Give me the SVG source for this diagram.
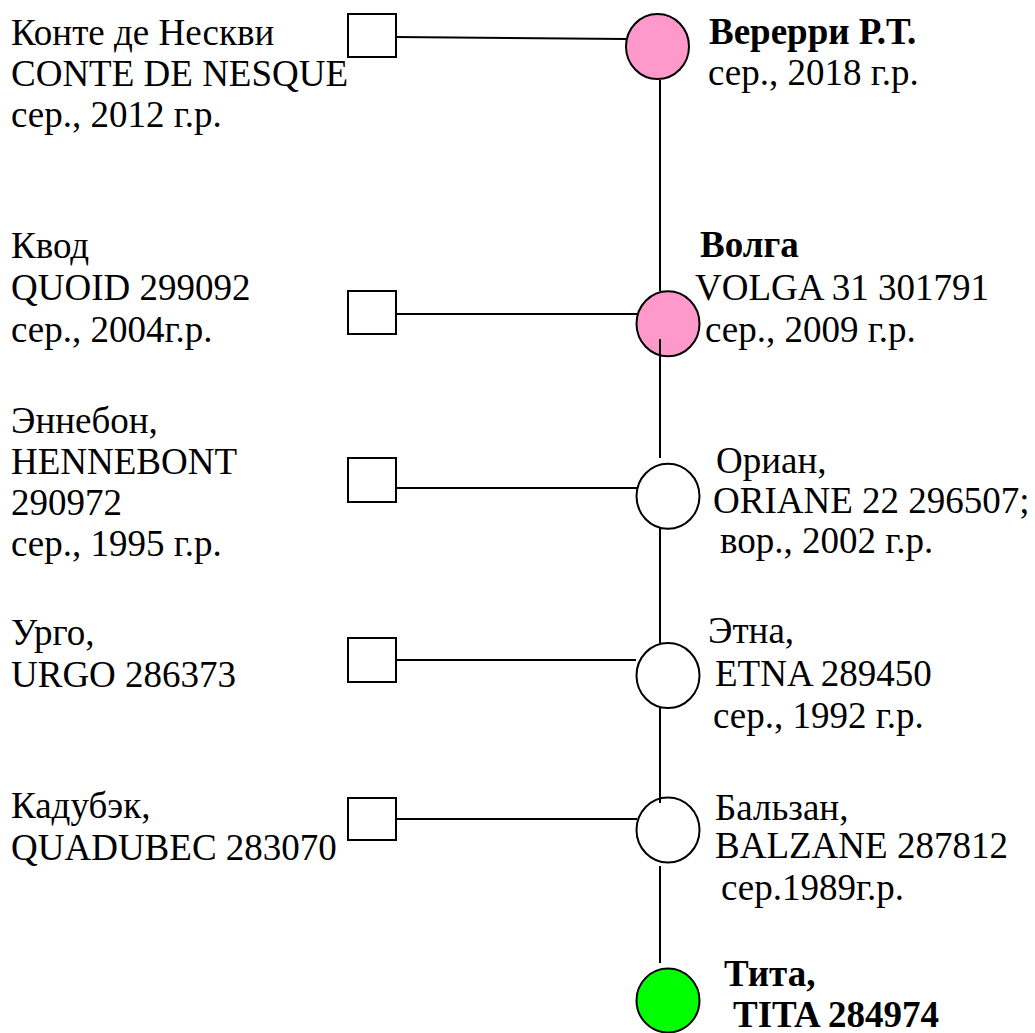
<svg xmlns="http://www.w3.org/2000/svg" width="1035" height="1033" viewBox="0 0 1035 1033">
<style>
.t{font-size:37px;fill:#000}
.b{font-weight:bold}
.sq{fill:#fff;stroke:#000;stroke-width:2}
.ci{stroke:#000;stroke-width:2}
.ln{stroke:#000;stroke-width:2;fill:none}
</style>
<rect width="1035" height="1033" fill="#fff"/>
<g id="connectors">
<line class="ln" x1="396" y1="37" x2="626" y2="39"/>
<line class="ln" x1="396" y1="314" x2="637" y2="314"/>
<line class="ln" x1="396" y1="488" x2="637" y2="488"/>
<line class="ln" x1="396" y1="660" x2="636" y2="660"/>
<line class="ln" x1="396" y1="819" x2="637" y2="819"/>
<line class="ln" x1="660" y1="80" x2="660" y2="291"/>
</g>
<g class="t" font-family="'Liberation Serif', 'DejaVu Serif', serif">
<g id="sire1"><rect class="sq" x="348" y="14" width="48" height="43"/>
<text x="11" y="45">Конте де Нескви</text><text x="11" y="86">CONTE DE NESQUE</text><text x="11" y="127">сер., 2012 г.р.</text></g>
<g id="dam1"><ellipse class="ci" cx="657.5" cy="46.5" rx="31.5" ry="32.5" fill="#FF99CC"/>
<text class="b" x="709" y="44">Верерри Р.Т.</text><text x="708" y="85">сер., 2018 г.р.</text></g>
<g id="sire2"><rect class="sq" x="348" y="291" width="48" height="43"/>
<text x="11" y="258">Квод</text><text x="11" y="300">QUOID 299092</text><text x="11" y="342">сер., 2004г.р.</text></g>
<g id="dam2"><ellipse class="ci" cx="668" cy="323.7" rx="31.5" ry="32.5" fill="#FF99CC"/>
<text class="b" x="700" y="257">Волга</text><text x="695" y="300">VOLGA 31 301791</text><text x="705" y="342">сер., 2009 г.р.</text></g>
<g id="sire3"><rect class="sq" x="348" y="458" width="48" height="44"/>
<text x="11" y="433">Эннебон,</text><text x="11" y="474">HENNEBONT</text><text x="11" y="515">290972</text><text x="11" y="556">сер., 1995 г.р.</text></g>
<g id="dam3"><ellipse class="ci" cx="668" cy="496.3" rx="31.5" ry="32.5" fill="#fff"/>
<text x="716" y="473">Ориан,</text><text x="713" y="513">ORIANE 22 296507;</text><text x="720" y="553">вор., 2002 г.р.</text></g>
<g id="sire4"><rect class="sq" x="348" y="638" width="48" height="44"/>
<text x="11" y="645">Урго,</text><text x="11" y="687">URGO 286373</text></g>
<g id="dam4"><ellipse class="ci" cx="668" cy="675.5" rx="31.5" ry="32.5" fill="#fff"/>
<text x="708" y="643">Этна,</text><text x="715" y="686">ETNA 289450</text><text x="713" y="728">сер., 1992 г.р.</text></g>
<g id="sire5"><rect class="sq" x="348" y="798" width="48" height="42"/>
<text x="11" y="818">Кадубэк,</text><text x="11" y="860">QUADUBEC 283070</text></g>
<g id="dam5"><ellipse class="ci" cx="668" cy="830" rx="31.5" ry="32.5" fill="#fff"/>
<text x="715" y="820">Бальзан,</text><text x="715" y="858">BALZANE 287812</text><text x="721" y="900">сер.1989г.р.</text></g>
<g id="offspring"><ellipse class="ci" cx="668" cy="1000.5" rx="31.5" ry="32" fill="#00FF00"/>
<text class="b" x="724" y="986">Тита,</text><text class="b" x="733" y="1027">TITA 284974</text></g>
</g>
<g id="connectors-vertical">
<line class="ln" x1="660" y1="339" x2="660" y2="458"/>
<line class="ln" x1="660" y1="527" x2="660" y2="643"/>
<line class="ln" x1="660" y1="708" x2="660" y2="803"/>
<line class="ln" x1="660" y1="866" x2="660" y2="963"/>
</g>
</svg>
